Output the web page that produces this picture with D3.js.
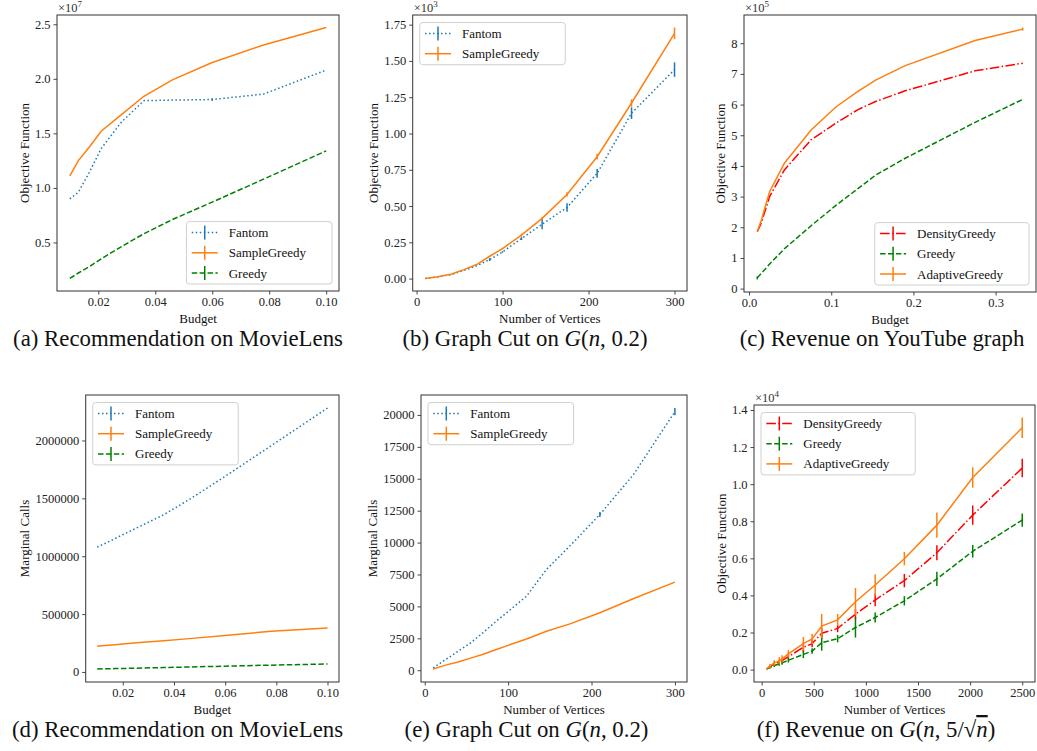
<!DOCTYPE html>
<html>
<head>
<meta charset="utf-8">
<script src="https://cdn.jsdelivr.net/npm/d3@7"></script>
<style>
  body { margin: 0; background: #fff; }
  svg { display: block; font-family: "Liberation Serif", "Times New Roman", serif; }
</style>
</head>
<body>
<svg id="fig" width="1037" height="751"></svg>
<script>
// ---- data ----
const budget = [0.01, 0.013, 0.017, 0.021, 0.028, 0.036, 0.046, 0.06, 0.078, 0.1]
const fantomObjA = [0.90e7, 0.96e7, 1.15e7, 1.36e7, 1.60e7, 1.80e7, 1.805e7, 1.81e7, 1.86e7, 2.08e7]
const fantomErrA = [0, 0, 0, 0, 0, 0, 0, 0.012e7, 0, 0]
const sampleObjA = [1.11e7, 1.25e7, 1.38e7, 1.52e7, 1.67e7, 1.84e7, 1.99e7, 2.15e7, 2.31e7, 2.47e7]
const greedyObjA = [0.17e7, 0.22e7, 0.28e7, 0.35e7, 0.46e7, 0.58e7, 0.71e7, 0.87e7, 1.08e7, 1.34e7]

const vertices = [10, 25, 40, 55, 70, 85, 100, 122, 146, 175, 210, 250, 300]
const fantomObjB = [1, 12, 28, 56, 88, 131, 184, 276, 375, 490, 725, 1140, 1440]
const fantomErrB = [0, 0, 0, 0, 0, 10, 5, 10, 35, 30, 30, 40, 50]
const sampleObjB = [1, 12, 30, 62, 97, 154, 207, 300, 415, 580, 840, 1210, 1690]
const sampleErrB = [0, 0, 0, 0, 0, 0, 5, 10, 10, 15, 20, 25, 40]

const budgetC = [0.01, 0.015, 0.025, 0.043, 0.0755, 0.106, 0.132, 0.154, 0.19, 0.275, 0.333]
const densityObjC = [1.86e5, 2.15e5, 3.0e5, 3.87e5, 4.85e5, 5.4e5, 5.83e5, 6.1e5, 6.45e5, 7.1e5, 7.35e5]
const greedyObjC = [0.35e5, 0.5e5, 0.8e5, 1.3e5, 2.05e5, 2.72e5, 3.25e5, 3.7e5, 4.25e5, 5.42e5, 6.17e5]
const greedyErrC = [0.05e5, 0, 0, 0, 0, 0, 0, 0, 0, 0, 0]
const adaptiveObjC = [1.86e5, 2.24e5, 3.16e5, 4.09e5, 5.17e5, 5.93e5, 6.42e5, 6.8e5, 7.27e5, 8.09e5, 8.46e5]
const adaptiveErrC = [0, 0, 0, 0, 0, 0, 0, 0, 0, 0, 0.05e5]

const fantomCallsD = [1078000, 1110000, 1153000, 1197000, 1272000, 1358000, 1490000, 1690000, 1955000, 2280000]
const sampleCallsD = [222000, 228000, 236000, 243000, 256000, 270000, 288000, 314000, 352000, 380000]
const greedyCallsD = [26000, 27000, 29000, 31000, 34000, 38000, 43000, 50000, 59000, 69000]

const fantomCallsE = [180, 830, 1490, 2140, 2950, 3800, 4600, 5800, 7900, 9800, 12200, 15300, 20260]
const fantomCallsErrE = [0, 0, 0, 0, 0, 0, 0, 0, 0, 0, 200, 0, 280]
const sampleCallsE = [100, 400, 650, 950, 1250, 1600, 1950, 2450, 3050, 3650, 4500, 5600, 6900]

const verticesF = [49, 81, 121, 169, 196, 256, 400, 484, 576, 729, 900, 1089, 1369, 1681, 2025, 2500]
const densityObjF = [40, 170, 300, 400, 480, 700, 1200, 1400, 1960, 2220, 2990, 3750, 4800, 6300, 8330, 10870]
const densityErrF = [20, 80, 100, 120, 120, 150, 250, 200, 300, 200, 270, 340, 360, 400, 520, 500]
const greedyObjF = [40, 120, 220, 300, 360, 500, 820, 1000, 1450, 1670, 2270, 2810, 3710, 4890, 6380, 8060]
const greedyErrF = [20, 60, 80, 100, 100, 120, 200, 150, 430, 200, 540, 270, 250, 380, 340, 360]
const adaptiveObjF = [40, 200, 360, 470, 580, 850, 1400, 1650, 2350, 2680, 3660, 4560, 5980, 7790, 10360, 13040]
const adaptiveErrF = [30, 100, 150, 200, 200, 200, 360, 270, 650, 320, 740, 580, 360, 680, 550, 550]

const budgetTicks = [0.02, 0.04, 0.06, 0.08, 0.10]
const vertexTicks = [0, 100, 200, 300]
const budgetTicksC = [0, 0.1, 0.2, 0.3]
const vertexTicksF = [0, 500, 1000, 1500, 2000, 2500]
const objTicksA = [0.5e7, 1e7, 1.5e7, 2e7, 2.5e7]
const objTicksB = [0, 250, 500, 750, 1000, 1250, 1500, 1750]
const objTicksC = [0, 1e5, 2e5, 3e5, 4e5, 5e5, 6e5, 7e5, 8e5]
const callTicksD = [0, 500000, 1000000, 1500000, 2000000]
const callTicksE = [0, 2500, 5000, 7500, 10000, 12500, 15000, 17500, 20000]
const objTicksF = [0, 2000, 4000, 6000, 8000, 10000, 12000, 14000]

// ---- styles ----
const BLUE = '#1f77b4', ORANGE = '#ff7f0e', GREEN = '#008000', RED = '#ff0000'
const dash = { solid: null, dotted: '1.5,2.5', dashed: '5.5,2.4', dashdot: '9.6,2.4,1.5,2.4' }
const SERIF = '"Liberation Serif", "Times New Roman", serif'

const svg = d3.select('#fig')

function panel(p) {
  const g = svg.append('g')
  const b = p.box
  const xr = d3.max(p.x) - d3.min(p.x)
  const x = d3.scaleLinear()
    .domain([d3.min(p.x) - 0.05 * xr, d3.max(p.x) + 0.05 * xr])
    .range([b.left, b.right])
  const lo = d3.min(p.series, s => d3.min(s.y, (v, i) => v - (s.err ? s.err[i] : 0)))
  const hi = d3.max(p.series, s => d3.max(s.y, (v, i) => v + (s.err ? s.err[i] : 0)))
  const yr = hi - lo
  const y = d3.scaleLinear().domain([lo - 0.05 * yr, hi + 0.05 * yr]).range([b.bottom, b.top])

  // axes
  const xa = g.append('g').attr('transform', `translate(0,${b.bottom})`)
    .call(d3.axisBottom(x).tickValues(p.xTicks).tickFormat(p.xFmt).tickSize(3.5).tickPadding(2.5))
  const ya = g.append('g').attr('transform', `translate(${b.left},0)`)
    .call(d3.axisLeft(y).tickValues(p.yTicks).tickFormat(p.yFmt).tickSize(3.5).tickPadding(3))
  for (const a of [xa, ya]) {
    a.select('.domain').remove()
    a.attr('font-family', SERIF).attr('font-size', 12.5)
    a.selectAll('line').attr('stroke', '#333').attr('stroke-width', 0.9)
    a.selectAll('text').attr('fill', '#222')
  }

  // lines and error bars
  const line = d3.line().x((d, i) => x(p.x[i])).y(d => y(d))
  p.series.forEach(s => {
    g.append('path').datum(s.y)
      .attr('d', line).attr('fill', 'none')
      .attr('stroke', s.color).attr('stroke-width', 1.5)
      .attr('stroke-dasharray', dash[s.style])
    if (s.err) {
      const bars = s.y.map((v, i) => ({ x: p.x[i], v, e: s.err[i] })).filter(d => d.e > 0)
      g.selectAll(null).data(bars).join('line')
        .attr('x1', d => x(d.x)).attr('x2', d => x(d.x))
        .attr('y1', d => y(d.v - d.e)).attr('y2', d => y(d.v + d.e))
        .attr('stroke', s.color).attr('stroke-width', 1.5)
    }
  })

  g.append('rect')
    .attr('x', b.left).attr('y', b.top)
    .attr('width', b.right - b.left).attr('height', b.bottom - b.top)
    .attr('fill', 'none').attr('stroke', '#333').attr('stroke-width', 1)

  // offset text like ×10^7
  if (p.exp) {
    const t = g.append('text').attr('x', b.left + 1).attr('y', b.top - 3)
      .attr('font-size', 12.5).attr('fill', '#333').text('×10')
    t.append('tspan').attr('dy', -5).attr('font-size', 9).text(p.exp)
  }

  // axis labels
  g.append('text').attr('x', (b.left + b.right) / 2).attr('y', b.bottom + 31.5)
    .attr('text-anchor', 'middle').attr('font-size', 13).attr('fill', '#111').text(p.xLabel)
  const tickLeft = d3.min(ya.selectAll('text').nodes(), n => n.getBBox().x) + b.left
  g.append('text')
    .attr('transform', `translate(${tickLeft - 10.5},${(b.top + b.bottom) / 2}) rotate(-90)`)
    .attr('text-anchor', 'middle').attr('dominant-baseline', 'central')
    .attr('font-size', 13).attr('fill', '#111').text(p.yLabel)

  // legend
  const lg = g.append('g')
  const fs = 13, rowH = 20.2
  const txt = lg.selectAll('text').data(p.legend).join('text')
    .attr('font-size', fs).attr('fill', '#111').attr('dominant-baseline', 'central')
    .text(d => d.name)
  const tw = d3.max(txt.nodes(), n => n.getComputedTextLength())
  const w = 5.3 + 26 + 11 + tw + 26
  const h = 22 + (p.legend.length - 1) * rowH
  const lx = p.legendLoc === 'lower right' ? b.right - 7 - w : b.left + 7
  const ly = p.legendLoc === 'lower right' ? b.bottom - 7 - h : b.top + 7.5
  lg.insert('rect', 'text').attr('x', lx).attr('y', ly).attr('width', w).attr('height', h)
    .attr('rx', 3).attr('fill', '#fff').attr('fill-opacity', 0.85)
    .attr('stroke', '#d0d0d0').attr('stroke-width', 1)
  txt.attr('x', lx + 5.3 + 26 + 11).attr('y', (d, i) => ly + 11 + i * rowH)
  p.legend.forEach((s, i) => {
    const cy = ly + 11 + i * rowH, hx = lx + 5.3
    lg.append('line').attr('x1', hx).attr('x2', hx + 26).attr('y1', cy).attr('y2', cy)
      .attr('stroke', s.color).attr('stroke-width', 1.5).attr('stroke-dasharray', dash[s.style])
    lg.append('line').attr('x1', hx + 13).attr('x2', hx + 13).attr('y1', cy - 7).attr('y2', cy + 7)
      .attr('stroke', s.color).attr('stroke-width', 1.5)
  })
}

const fmt = k => d => d3.format(`.${k}f`)(d)
const fantom = (y, err) => ({ name: 'Fantom', y, err, color: BLUE, style: 'dotted' })
const sample = (y, err) => ({ name: 'SampleGreedy', y, err, color: ORANGE, style: 'solid' })
const density = (y, err) => ({ name: 'DensityGreedy', y, err, color: RED, style: 'dashdot' })
const greedy = (y, err) => ({ name: 'Greedy', y, err, color: GREEN, style: 'dashed' })
const adaptive = (y, err) => ({ name: 'AdaptiveGreedy', y, err, color: ORANGE, style: 'solid' })

// (a)
const sA = [fantom(fantomObjA, fantomErrA), sample(sampleObjA), greedy(greedyObjA)]
panel({ box: { left: 57, right: 339, top: 15, bottom: 291 }, x: budget, series: sA, legend: sA,
  legendLoc: 'lower right', xTicks: budgetTicks, xFmt: fmt(2), yTicks: objTicksA, yFmt: d => fmt(1)(d / 1e7),
  exp: '7', xLabel: 'Budget', yLabel: 'Objective Function' })
// (b)
const sB = [fantom(fantomObjB, fantomErrB), sample(sampleObjB, sampleErrB)]
panel({ box: { left: 412.7, right: 687, top: 15, bottom: 291 }, x: vertices, series: sB, legend: sB,
  legendLoc: 'upper left', xTicks: vertexTicks, xFmt: fmt(0), yTicks: objTicksB, yFmt: d => fmt(2)(d / 1e3),
  exp: '3', xLabel: 'Number of Vertices', yLabel: 'Objective Function' })
// (c)
const sC = [density(densityObjC), greedy(greedyObjC, greedyErrC), adaptive(adaptiveObjC, adaptiveErrC)]
panel({ box: { left: 744, right: 1036, top: 15, bottom: 292 }, x: budgetC, series: sC, legend: sC,
  legendLoc: 'lower right', xTicks: budgetTicksC, xFmt: fmt(1), yTicks: objTicksC, yFmt: d => fmt(0)(d / 1e5),
  exp: '5', xLabel: 'Budget', yLabel: 'Objective Function' })
// (d)
const sD = [fantom(fantomCallsD), sample(sampleCallsD), greedy(greedyCallsD)]
panel({ box: { left: 85.7, right: 339, top: 395, bottom: 682 }, x: budget, series: sD, legend: sD,
  legendLoc: 'upper left', xTicks: budgetTicks, xFmt: fmt(2), yTicks: callTicksD, yFmt: fmt(0),
  xLabel: 'Budget', yLabel: 'Marginal Calls' })
// (e)
const sE = [fantom(fantomCallsE, fantomCallsErrE), sample(sampleCallsE)]
panel({ box: { left: 421, right: 687, top: 395, bottom: 682 }, x: vertices, series: sE, legend: sE,
  legendLoc: 'upper left', xTicks: vertexTicks, xFmt: fmt(0), yTicks: callTicksE, yFmt: fmt(0),
  xLabel: 'Number of Vertices', yLabel: 'Marginal Calls' })
// (f)
const sF = [density(densityObjF, densityErrF), greedy(greedyObjF, greedyErrF), adaptive(adaptiveObjF, adaptiveErrF)]
panel({ box: { left: 754, right: 1035, top: 405, bottom: 682 }, x: verticesF, series: sF, legend: sF,
  legendLoc: 'upper left', xTicks: vertexTicksF, xFmt: fmt(0), yTicks: objTicksF, yFmt: d => fmt(1)(d / 1e4),
  exp: '4', xLabel: 'Number of Vertices', yLabel: 'Objective Function' })

// ---- captions ----
function caption(cx, by, parts) {
  const t = svg.append('text').attr('x', cx).attr('y', by).attr('text-anchor', 'middle')
    .attr('font-size', 22.8).attr('fill', '#111')
  parts.forEach(([s, style]) => {
    const ts = t.append('tspan').text(s)
    if (style === 'i') ts.attr('font-style', 'italic')
    if (style === 'io') ts.attr('font-style', 'italic').style('text-decoration', 'overline')
  })
}
caption(178, 346, [['(a) Recommendation on MovieLens']])
caption(525, 346, [['(b) Graph Cut on '], ['G', 'i'], ['('], ['n', 'i'], [', 0.2)']])
caption(882, 346, [['(c) Revenue on YouTube graph']])
caption(177.5, 737, [['(d) Recommendation on MovieLens']])
caption(526.5, 737, [['(e) Graph Cut on '], ['G', 'i'], ['('], ['n', 'i'], [', 0.2)']])
caption(876, 737, [['(f) Revenue on '], ['G', 'i'], ['('], ['n', 'i'], [', 5/√'], ['n', 'io'], [')']])
</script>
</body>
</html>
